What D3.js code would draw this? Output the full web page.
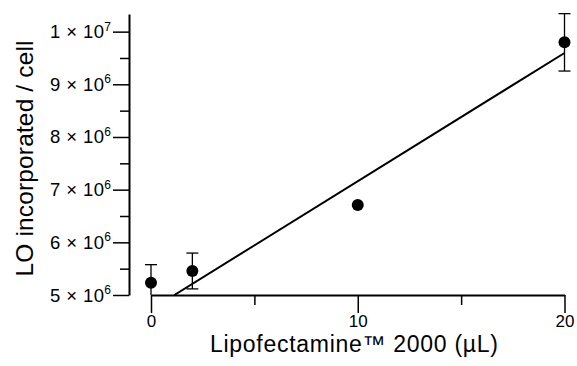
<!DOCTYPE html>
<html>
<head>
<meta charset="utf-8">
<script src="https://cdn.jsdelivr.net/npm/d3@7"></script>
<style>
  body { margin: 0; background: #fff; }
  svg { font-family: "Liberation Sans", Arial, sans-serif; }
  .axis .domain { stroke: #000; stroke-width: 2; }
  .axis line { stroke: #000; stroke-width: 1.5; }
  .axis text { fill: #000; }
</style>
</head>
<body>
<svg id="chart"></svg>
<script>
// data
const doses = [0, 2, 10, 20];                       // µL Lipofectamine
const loPerCell = [5.234e6, 5.456e6, 6.71e6, 9.797e6];
const loError = [0.342e6, 0.34e6, 0, 0.545e6];
const fitX = [1.13, 20];                            // drawn regression line
const fitY = [5e6, 9.595e6];
const xMajor = [0, 10, 20];
const xMinor = [5, 15];
const yMajor = [5e6, 6e6, 7e6, 8e6, 9e6, 1e7];
const yMinor = [5.5e6, 6.5e6, 7.5e6, 8.5e6, 9.5e6];

const svgWidth = 577, svgHeight = 366;
const svg = d3.select("#chart").attr("width", svgWidth).attr("height", svgHeight);

// scales
const x = d3.scaleLinear().domain([0, 20]).range([151, 564.5]);
const y = d3.scaleLinear().domain([5e6, 1.0335e7]).range([295, 14]);
const yAxisX = 129;
const xAxisY = 295;

// y axis (offset to the left), labels drawn separately below
svg.append("g")
  .attr("class", "axis")
  .attr("transform", `translate(${yAxisX},0)`)
  .call(d3.axisLeft(y).tickValues(yMajor).tickSize(16).tickSizeOuter(0).tickFormat(""));

svg.append("g")
  .attr("class", "axis")
  .attr("transform", `translate(${yAxisX},0)`)
  .call(d3.axisLeft(y).tickValues(yMinor).tickSize(9).tickSizeOuter(0).tickFormat(""))
  .select(".domain").remove();

// tick labels as "m × 10^e"
const yLab = svg.selectAll(".ylab")
  .data(yMajor)
  .enter()
  .append("text")
  .attr("class", "ylab")
  .attr("x", yAxisX - 18)
  .attr("y", d => y(d) + 6.5)
  .attr("text-anchor", "end")
  .attr("font-size", 18.5)
  .attr("textLength", 61)
  .attr("lengthAdjust", "spacing");

yLab.append("tspan")
  .text(d => `${Math.round(d / Math.pow(10, Math.floor(Math.log10(d))))} × 10`);
yLab.append("tspan")
  .attr("dy", -7.5)
  .attr("font-size", 12)
  .text(d => Math.floor(Math.log10(d)));

// x axis
svg.append("g")
  .attr("class", "axis")
  .attr("transform", `translate(0,${xAxisY})`)
  .call(d3.axisBottom(x).tickValues(xMajor).tickSize(18).tickSizeOuter(0).tickPadding(2))
  .selectAll("text")
  .attr("font-size", 17);

svg.append("g")
  .attr("class", "axis")
  .attr("transform", `translate(0,${xAxisY})`)
  .call(d3.axisBottom(x).tickValues(xMinor).tickSize(10).tickSizeOuter(0).tickFormat(""))
  .select(".domain").remove();

// axis titles
svg.append("text")
  .attr("x", 354)
  .attr("y", 351.5)
  .attr("text-anchor", "middle")
  .attr("font-size", 23)
  .attr("textLength", 288)
  .attr("lengthAdjust", "spacing")
  .text("Lipofectamine™ 2000 (µL)");

svg.append("text")
  .attr("transform", "translate(33,158.5) rotate(-90)")
  .attr("text-anchor", "middle")
  .attr("font-size", 24.5)
  .attr("textLength", 236)
  .attr("lengthAdjust", "spacing")
  .text("LO incorporated / cell");

// clip marks at the x axis
svg.append("clipPath").attr("id", "plot-clip")
  .append("rect").attr("x", 0).attr("y", 0).attr("width", svgWidth).attr("height", xAxisY);

const plot = svg.append("g").attr("clip-path", "url(#plot-clip)");

// regression line
plot.append("line")
  .attr("x1", x(fitX[0])).attr("y1", y(fitY[0]))
  .attr("x2", x(fitX[1])).attr("y2", y(fitY[1]))
  .style("stroke", "#000")
  .style("stroke-width", 2);

// error bars
const pts = doses.map((d, i) => ({ dose: d, value: loPerCell[i], err: loError[i] }));
const eb = plot.selectAll(".errbar")
  .data(pts.filter(d => d.err > 0))
  .enter()
  .append("g")
  .attr("class", "errbar")
  .style("stroke", "#000")
  .style("stroke-width", 1.3);

eb.append("line")
  .attr("x1", d => x(d.dose)).attr("x2", d => x(d.dose))
  .attr("y1", d => y(d.value - d.err)).attr("y2", d => y(d.value + d.err));
eb.append("line")
  .attr("x1", d => x(d.dose) - 6).attr("x2", d => x(d.dose) + 6)
  .attr("y1", d => y(d.value + d.err)).attr("y2", d => y(d.value + d.err));
eb.append("line")
  .attr("x1", d => x(d.dose) - 6).attr("x2", d => x(d.dose) + 6)
  .attr("y1", d => y(d.value - d.err)).attr("y2", d => y(d.value - d.err));

// points
plot.selectAll(".dot")
  .data(pts)
  .enter()
  .append("circle")
  .attr("class", "dot")
  .attr("cx", d => x(d.dose))
  .attr("cy", d => y(d.value))
  .attr("r", 6)
  .style("fill", "#000");
</script>
</body>
</html>
